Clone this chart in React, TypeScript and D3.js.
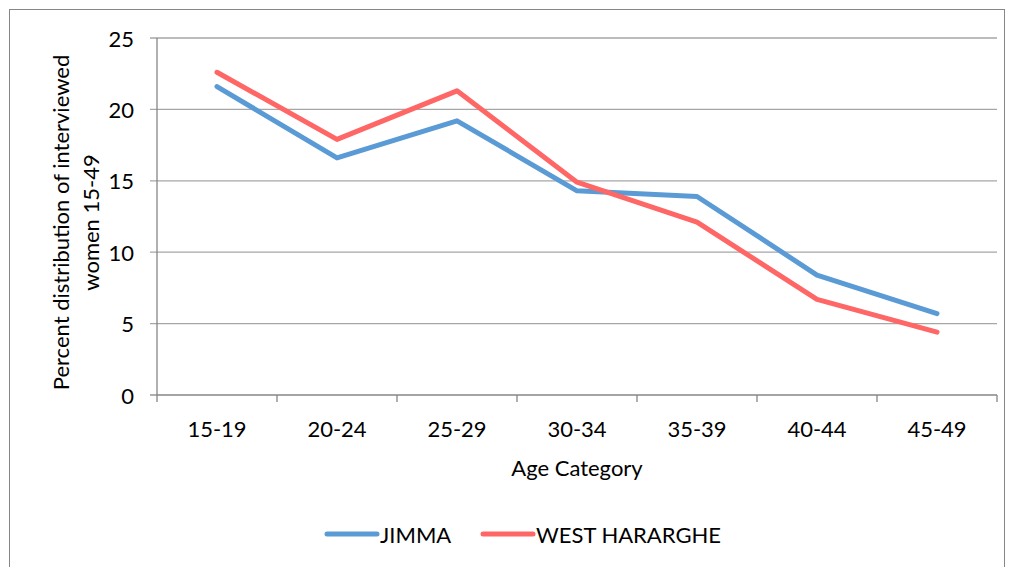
import React from "react";
import * as d3 from "d3";

const categories = ["15-19", "20-24", "25-29", "30-34", "35-39", "40-44", "45-49"];
const jimma = [21.6, 16.6, 19.2, 14.3, 13.9, 8.4, 5.7];
const westHararghe = [22.6, 17.9, 21.3, 14.9, 12.1, 6.7, 4.4];
const yTicks = [0, 5, 10, 15, 20, 25];
const seriesNames = ["JIMMA", "WEST HARARGHE"];
const colors = ["#5B9BD5", "#FF6666"];

const W = 1012;
const H = 567;
const left = 157;
const right = 997;
const top = 38;
const bottom = 395;
const font = "Lato, 'Noto Sans', sans-serif";
const fs = 22;

export default function App() {
  const x = d3.scaleBand<string>().domain(categories).range([left, right]);
  const y = d3.scaleLinear().domain([0, 25]).range([bottom, top]);
  const line = d3
    .line<number>()
    .x((_, i) => (x(categories[i]) as number) + x.bandwidth() / 2)
    .y((d) => y(d));
  const series = [jimma, westHararghe];
  const boundaries = categories.map((c) => x(c) as number).concat([right]);

  return (
    <svg
      width={W}
      height={H}
      style={{ position: "absolute", left: 0, top: 0, background: "#fff" }}
      fontFamily={font}
    >
      <rect x={9.5} y={9.5} width={995} height={620} fill="#fff" stroke="#868686" strokeWidth={1} />
      {yTicks.map((t) => (
        <g key={t}>
          {t > 0 && (
            <line x1={left - 7} x2={right} y1={y(t)} y2={y(t)} stroke="#a6a6a6" strokeWidth={1.3} />
          )}
          {t === 0 && <line x1={left - 7} x2={left} y1={y(t)} y2={y(t)} stroke="#868686" strokeWidth={1.3} />}
          <text x={134} y={y(t)} textAnchor="end" dominantBaseline="central" fontSize={fs} fill="#000">
            {t}
          </text>
        </g>
      ))}
      <line x1={left} x2={left} y1={top} y2={bottom} stroke="#868686" strokeWidth={1.3} />
      <line x1={left} x2={right} y1={bottom} y2={bottom} stroke="#868686" strokeWidth={1.3} />
      {boundaries.map((b, i) => (
        <line key={i} x1={b} x2={b} y1={bottom} y2={bottom + 7} stroke="#868686" strokeWidth={1.3} />
      ))}
      {categories.map((c) => (
        <text
          key={c}
          x={(x(c) as number) + x.bandwidth() / 2}
          y={428}
          textAnchor="middle"
          dominantBaseline="central"
          fontSize={fs}
          fill="#000"
        >
          {c}
        </text>
      ))}
      <text x={(left + right) / 2} y={467} textAnchor="middle" dominantBaseline="central" fontSize={fs} fill="#000">
        Age Category
      </text>
      <g transform={`translate(75, ${(top + bottom) / 2 + 6}) rotate(-90)`}>
        <text x={0} y={-15} textAnchor="middle" dominantBaseline="central" fontSize={fs} fill="#000">
          Percent distribution of interviewed
        </text>
        <text x={0} y={15} textAnchor="middle" dominantBaseline="central" fontSize={fs} fill="#000">
          women 15-49
        </text>
      </g>
      {series.map((s, i) => (
        <path
          key={i}
          d={line(s) as string}
          fill="none"
          stroke={colors[i]}
          strokeWidth={5}
          strokeLinecap="round"
          strokeLinejoin="round"
        />
      ))}
      {seriesNames.map((n, i) => {
        const lx = i === 0 ? 327 : 483;
        return (
          <g key={n}>
            <line x1={lx} x2={lx + 50} y1={534} y2={534} stroke={colors[i]} strokeWidth={5} strokeLinecap="round" />
            <text x={lx + 53} y={534} dominantBaseline="central" fontSize={fs} fill="#000">
              {n}
            </text>
          </g>
        );
      })}
    </svg>
  );
}
